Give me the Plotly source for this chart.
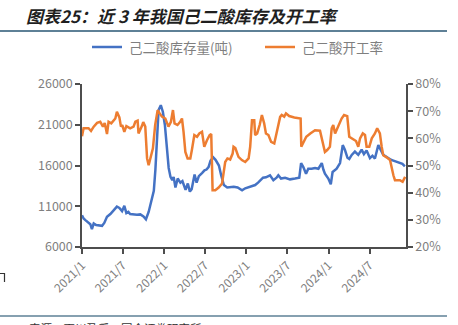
import plotly.graph_objects as go

# 己二酸库存量（吨）
inv_dates = [
    "2021-01-01", "2021-01-08", "2021-01-16", "2021-01-29", "2021-02-07", "2021-02-14",
    "2021-02-22", "2021-03-05", "2021-03-16", "2021-03-31", "2021-04-10", "2021-04-22",
    "2021-05-07", "2021-05-21", "2021-06-05", "2021-06-16", "2021-06-28", "2021-07-08",
    "2021-07-17", "2021-07-26", "2021-08-03", "2021-09-02", "2021-09-17", "2021-10-01",
    "2021-10-12", "2021-10-24", "2021-11-08", "2021-11-16", "2021-11-23", "2021-11-29",
    "2021-12-07", "2021-12-17", "2021-12-26", "2022-01-04", "2022-01-13", "2022-01-21",
    "2022-01-29", "2022-02-06", "2022-02-12", "2022-02-20", "2022-03-02", "2022-03-14",
    "2022-03-23", "2022-04-06", "2022-04-16", "2022-04-25", "2022-05-03", "2022-05-16",
    "2022-05-25", "2022-06-04", "2022-06-19", "2022-06-29", "2022-07-08", "2022-07-17",
    "2022-07-26", "2022-08-07", "2022-08-17", "2022-09-01", "2022-09-11", "2022-09-23",
    "2022-10-08", "2022-10-23", "2022-11-06", "2022-11-23", "2022-12-13", "2022-12-27",
    "2023-01-10", "2023-01-26", "2023-02-09", "2023-02-22", "2023-03-03", "2023-03-16",
    "2023-03-29", "2023-04-16", "2023-05-01", "2023-05-15", "2023-05-23", "2023-06-04",
    "2023-06-22", "2023-07-14", "2023-08-05", "2023-08-24", "2023-09-01", "2023-09-11",
    "2023-09-23", "2023-10-03", "2023-10-18", "2023-11-02", "2023-11-17", "2023-12-02",
    "2023-12-09", "2023-12-16", "2023-12-31", "2024-01-11", "2024-01-19", "2024-02-06",
    "2024-02-21", "2024-03-04", "2024-03-14", "2024-03-25", "2024-04-02", "2024-04-13",
    "2024-04-27", "2024-05-12", "2024-05-27", "2024-06-06", "2024-06-18", "2024-07-03",
    "2024-07-14", "2024-07-25", "2024-08-09", "2024-08-20", "2024-08-31", "2024-09-12",
    "2024-09-22", "2024-10-04", "2024-10-15", "2024-10-27", "2024-11-13", "2024-11-24",
    "2024-12-05",
]
inv_values = [
    9900, 9500, 9300, 8950, 8800, 8200,
    8900, 8700, 8650, 8600, 8950, 9700,
    10050, 10500, 10950, 10800, 10400, 11050,
    10150, 10300, 10050, 9950, 10000, 9750,
    9400, 10300, 12200, 12900, 15500, 19500,
    22800, 23400, 22600, 21000, 18300, 15700,
    14600, 14200, 14600, 13300, 14400, 13900,
    14100, 13000, 13800, 12800, 13100, 14900,
    13900, 14700, 15100, 15400, 15500, 15800,
    16600, 17000, 16700, 16000, 14800, 13600,
    13300, 13400, 13400, 13300, 12950, 13200,
    13300, 13500, 13600, 13900, 14200, 14500,
    14550, 14800, 14200, 14500, 14800, 14400,
    14500, 14300, 14400, 14500, 16300, 15800,
    15000, 15600, 15600, 15700, 15600, 16300,
    15500, 15000, 14400, 13700, 15200, 15600,
    16300, 18500, 17900, 16950, 16800, 17300,
    17700, 17300, 17950, 17400, 17850, 16900,
    17200, 16850, 18500, 17900, 17300, 17100,
    16900, 16700, 16600, 16500, 16300, 16200,
    15900,
]

# 己二酸开工率（%）
rate_dates = [
    "2021-01-01", "2021-01-08", "2021-01-30", "2021-02-10", "2021-02-22", "2021-03-09",
    "2021-03-23", "2021-04-04", "2021-04-12", "2021-04-22", "2021-04-29", "2021-05-11",
    "2021-05-29", "2021-06-05", "2021-06-16", "2021-06-23", "2021-06-29", "2021-07-08",
    "2021-07-17", "2021-08-03", "2021-08-18", "2021-08-26", "2021-09-05", "2021-09-09",
    "2021-09-24", "2021-09-30", "2021-10-09", "2021-10-17", "2021-10-24", "2021-11-03",
    "2021-11-12", "2021-11-22", "2021-12-03", "2021-12-12", "2021-12-22", "2022-01-06",
    "2022-01-20", "2022-01-31", "2022-02-09", "2022-02-16", "2022-03-01", "2022-03-13",
    "2022-03-21", "2022-03-28", "2022-04-05", "2022-04-15", "2022-04-27", "2022-05-04",
    "2022-05-15", "2022-05-27", "2022-06-06", "2022-06-18", "2022-06-28", "2022-07-10",
    "2022-07-22", "2022-07-29", "2022-08-04", "2022-08-16", "2022-08-31", "2022-09-15",
    "2022-09-22", "2022-09-29", "2022-10-09", "2022-10-21", "2022-11-01", "2022-11-05",
    "2022-11-13", "2022-11-27", "2022-12-12", "2022-12-27", "2023-01-11", "2023-01-18",
    "2023-01-26", "2023-02-05", "2023-02-09", "2023-02-18", "2023-03-01", "2023-03-11",
    "2023-03-21", "2023-03-29", "2023-04-09", "2023-04-21", "2023-05-05", "2023-05-17",
    "2023-05-24", "2023-05-31", "2023-06-07", "2023-06-18", "2023-06-26", "2023-07-10",
    "2023-08-02", "2023-08-24", "2023-08-30", "2023-09-02", "2023-09-12", "2023-09-24",
    "2023-10-12", "2023-11-02", "2023-11-24", "2023-12-04", "2023-12-16", "2023-12-26",
    "2024-01-07", "2024-01-15", "2024-01-22", "2024-01-30", "2024-02-13", "2024-02-28",
    "2024-03-10", "2024-03-24", "2024-04-02", "2024-04-20", "2024-05-02", "2024-05-12",
    "2024-05-20", "2024-06-01", "2024-06-11", "2024-06-18", "2024-06-30", "2024-07-11",
    "2024-07-25", "2024-08-04", "2024-08-16", "2024-08-24", "2024-08-31", "2024-09-15",
    "2024-09-30", "2024-10-15", "2024-10-22", "2024-11-13", "2024-11-25", "2024-12-06",
]
rate_values = [
    60.8, 63.7, 63.7, 62.7, 64.3, 65.7,
    66.1, 64.3, 65.6, 61.6, 66.1, 65.5,
    67.3, 69.8, 67.7, 64.3, 64.9, 62.4,
    64.5, 63.7, 64.3, 66.1, 66.5, 61.8,
    64.5, 66.0, 64.3, 52.6, 50.1, 53.8,
    56.3, 64.9, 70.4, 69.2, 68.0, 67.3,
    64.3, 66.1, 70.4, 65.5, 64.9, 66.1,
    67.3, 62.4, 55.0, 52.6, 52.6, 55.7,
    61.2, 60.6, 61.8, 62.4, 56.9, 59.3,
    61.2, 61.6, 40.9, 40.9, 41.9, 43.4,
    47.7, 51.3, 52.6, 52.2, 54.4, 56.9,
    56.4, 53.2, 52.0, 51.3, 52.6, 56.9,
    66.7, 66.7, 61.2, 61.8, 64.9, 68.6,
    65.5, 61.8, 61.2, 58.7, 58.1, 62.4,
    66.1, 67.9, 68.6, 68.0, 69.2, 68.2,
    67.7, 67.3, 67.3, 56.9, 58.7, 60.6,
    61.8, 63.0, 62.8, 59.3, 55.0, 55.7,
    56.9, 63.7, 64.9, 61.8, 64.3, 67.3,
    68.6, 68.2, 60.6, 59.6, 59.0, 56.9,
    60.0, 61.8, 61.2, 56.9, 56.9, 60.0,
    61.8, 63.7, 61.8, 56.9, 53.8, 53.0,
    52.0, 46.4, 44.6, 44.6, 44.0, 45.8,
]

tick_dates = ["2021-01-01", "2021-07-01", "2022-01-01", "2022-07-01",
              "2023-01-01", "2023-07-01", "2024-01-01", "2024-07-01"]
tick_labels = ["2021/1", "2021/7", "2022/1", "2022/7",
               "2023/1", "2023/7", "2024/1", "2024/7"]

series_names = ["己二酸库存量(吨)", "己二酸开工率"]

BLUE = "#4472C4"
ORANGE = "#ED7D31"
AXIS = "#4D4D4D"
LABEL = "#7F7F7F"
RULE = "#5E8096"
FONT = "Noto Sans CJK SC"

W, H = 458, 325
L, R, T, B = 82, 52, 84, 78
plot_h = H - T - B
plot_w = W - L - R


def py(p):
    """pixel row -> paper y"""
    return (H - B - p) / plot_h


def px(p):
    """pixel column -> paper x"""
    return (p - L) / plot_w


fig = go.Figure()
fig.add_trace(go.Scatter(
    x=inv_dates, y=inv_values, name=series_names[0], mode="lines",
    line=dict(color=BLUE, width=2.5), yaxis="y", showlegend=False,
))
fig.add_trace(go.Scatter(
    x=rate_dates, y=rate_values, name=series_names[1], mode="lines",
    line=dict(color=ORANGE, width=2.5), yaxis="y2", showlegend=False,
))

fig.update_layout(
    width=W, height=H,
    margin=dict(l=L, r=R, t=T, b=B),
    paper_bgcolor="white", plot_bgcolor="white",
    font=dict(family=FONT, color=LABEL, size=12),
    showlegend=False,
    xaxis=dict(
        type="date", range=["2021-01-01", "2024-12-10"],
        tickvals=tick_dates, ticktext=tick_labels, tickangle=-45,
        showgrid=False, zeroline=False,
        showline=True, linecolor=AXIS, linewidth=1.5,
        ticks="outside", ticklen=5, tickcolor=AXIS, tickwidth=1.5,
        tickfont=dict(family=FONT, size=12, color=LABEL),
    ),
    yaxis=dict(
        range=[6000, 26000], dtick=5000, tick0=6000, tickformat="d",
        showgrid=False, zeroline=False,
        showline=True, linecolor=AXIS, linewidth=1.5,
        ticks="outside", ticklen=5, tickcolor=AXIS, tickwidth=1.5,
        tickfont=dict(family=FONT, size=12.5, color=LABEL),
    ),
    yaxis2=dict(
        overlaying="y", side="right", range=[20, 80], dtick=10, tick0=20,
        ticksuffix="%", showgrid=False, zeroline=False,
        showline=True, linecolor=AXIS, linewidth=1.5,
        ticks="outside", ticklen=5, tickcolor=AXIS, tickwidth=1.5,
        tickfont=dict(family=FONT, size=12.5, color=LABEL),
    ),
)

# 图例（线段 + 文字）
legend_items = [(92, BLUE, series_names[0]), (265, ORANGE, series_names[1])]
for x0, color, label in legend_items:
    fig.add_shape(type="line", xref="paper", yref="paper",
                  x0=px(x0), x1=px(x0 + 30), y0=py(47), y1=py(47),
                  line=dict(color=color, width=2.5))
    fig.add_annotation(
        xref="paper", yref="paper", x=px(x0 + 35), y=py(47),
        xanchor="left", yanchor="middle", showarrow=False, text=label,
        font=dict(family=FONT, size=13.5, color=LABEL),
    )

# 标题
fig.add_annotation(
    xref="paper", yref="paper", x=px(24), y=py(15),
    xanchor="left", yanchor="middle", showarrow=False,
    text="<b>图表25：近 3 年我国己二酸库存及开工率</b>",
    font=dict(family=FONT, size=17, color="#1F1F1F", style="italic"),
)
# 标题下横线与底部横线
fig.add_shape(type="line", xref="paper", yref="paper",
              x0=px(0), x1=px(447), y0=py(31), y1=py(31),
              line=dict(color=RULE, width=2))
fig.add_shape(type="line", xref="paper", yref="paper",
              x0=px(0), x1=px(447), y0=py(316), y1=py(316),
              line=dict(color=RULE, width=1.5))
# 左侧小折角标记
fig.add_shape(type="path", xref="paper", yref="paper",
              path=f"M {px(0)},{py(273.5)} L {px(4.5)},{py(273.5)} L {px(4.5)},{py(282)}",
              line=dict(color="#333333", width=1.2))
# 数据来源
fig.add_annotation(
    xref="paper", yref="paper", x=px(27), y=py(318),
    xanchor="left", yanchor="top", showarrow=False,
    text="来源：百川盈孚，国金证券研究所",
    font=dict(family=FONT, size=11.5, color="#333333"),
)

fig.write_html("out.html")
